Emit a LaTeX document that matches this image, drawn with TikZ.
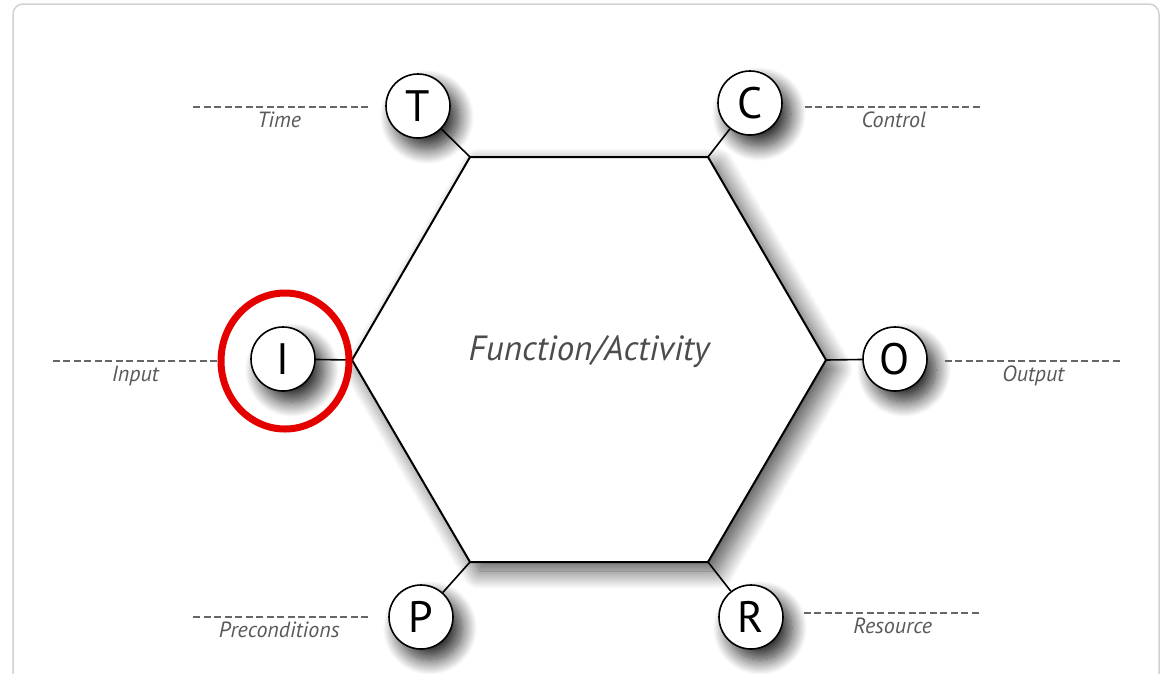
\documentclass[tikz,border=0pt]{standalone}
\usepackage{fontspec}
\setmainfont{PT Sans}
\usetikzlibrary{shadows.blur}

\tikzset{
  port/.style={circle, draw, line width=1.6pt, fill=white, minimum size=64pt, inner sep=0pt,
    font=\fontsize{44}{44}\selectfont,
    blur shadow={shadow xshift=9pt, shadow yshift=-11pt, shadow blur radius=15pt, shadow blur steps=20, shadow opacity=85}},
  dashline/.style={draw=black!60, line width=1.5pt, dash pattern=on 7pt off 3.5pt},
  caption/.style={font=\fontsize{22}{22}\selectfont\itshape, text=black!65, below, inner sep=4pt},
  link/.style={line width=1.6pt},
}

\begin{document}
\begin{tikzpicture}[x=1pt,y=-1pt]
\useasboundingbox (0,0) rectangle (1166,673);
\draw[black!18, line width=1.5pt, rounded corners=10pt] (13,690) -- (13,4) -- (1159,4) -- (1159,690);

% hexagon
\coordinate (tl) at (470,157);
\coordinate (tr) at (708,157);
\coordinate (rt) at (826,360);
\coordinate (br) at (708,562);
\coordinate (bl) at (470,562);
\coordinate (lf) at (352,360);
\filldraw[fill=white, line width=2pt,
  blur shadow={shadow xshift=9pt, shadow yshift=-9pt, shadow blur radius=18pt, shadow blur steps=20, shadow opacity=70}]
  (tl) -- (tr) -- (rt) -- (br) -- (bl) -- (lf) -- cycle;
\node[font=\fontsize{35}{35}\selectfont\itshape, text=black!70] (fa) at (589,352) {Function/Activity};

% ports
\node[port] (T) at (418,106) {T};
\node[port] (C) at (750,103) {C};
\node[port] (I) at (283,359) {I};
\node[port] (O) at (895,359) {O};
\node[port] (P) at (421,617) {P};
\node[port] (R) at (751,617) {R};

\draw[link] (T) -- (tl);
\draw[link] (C) -- (tr);
\draw[link] (I) -- (lf);
\draw[link] (O) -- (rt);
\draw[link] (P) -- (bl);
\draw[link] (R) -- (br);

% dashed leads
\draw[dashline] ([shift={(-17,1)}]T.west) -- ++(-178,0) node[midway, caption] {Time};
\draw[dashline] ([shift={(22,4)}]C.east) -- ++(178,0) node[midway, caption] {Control};
\draw[dashline] ([shift={(-33,2)}]I.west) -- ++(-164,0) node[midway, caption] {Input};
\draw[dashline] ([shift={(17,2)}]O.east) -- ++(177,0) node[midway, caption] {Output};
\draw[dashline] ([shift={(-20,0)}]P.west) -- ++(-178,0) node[midway, caption] {Preconditions};
\draw[dashline] ([shift={(20,-4)}]R.east) -- ++(178,0) node[midway, caption] {Resource};

% highlight
\draw[red!90!black, line width=7pt] ([shift={(2,2)}]I) ellipse [x radius=64pt, y radius=68pt];
\end{tikzpicture}
\end{document}
